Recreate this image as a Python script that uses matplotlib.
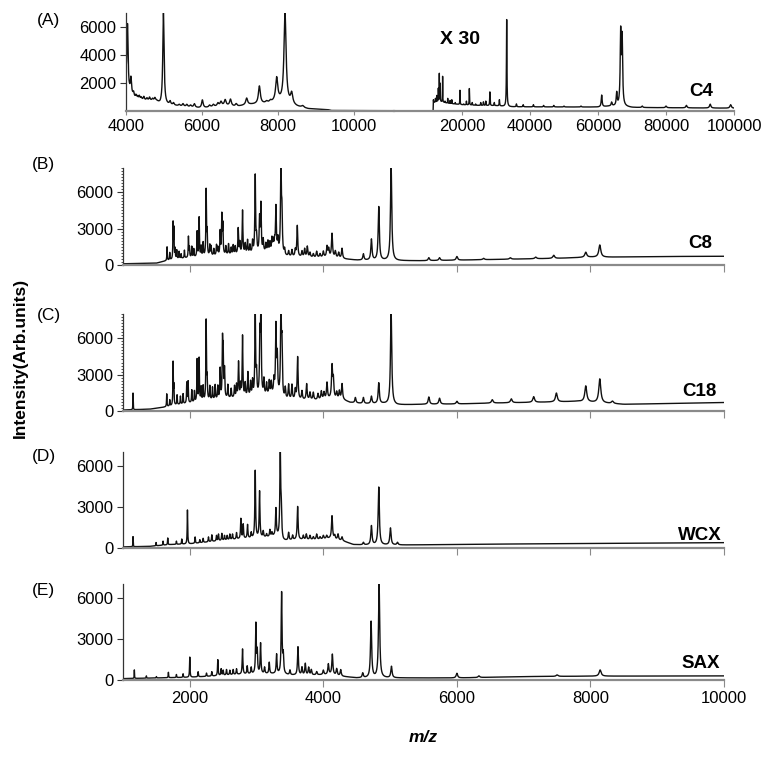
import numpy as np
import matplotlib.pyplot as plt
from matplotlib.ticker import MultipleLocator

plt.rcParams['font.family'] = ['Liberation Sans', 'DejaVu Sans']

W, H = 771, 757

# ---------- data ----------
# panel A, left part (4000-11000), baseline knots and peaks (m/z, apex)
a_base_mz = [4000, 4080, 4150, 4250, 4500, 4800, 4900, 5200, 5600, 6000, 6300, 6600,
             6900, 7200, 7500, 7800, 8000, 8500, 8800, 9300, 9400, 11100]
a_base_int = [2500, 1500, 1200, 850, 750, 700, 450, 400, 300, 200, 300, 400,
              300, 450, 500, 550, 700, 300, 150, 100, 30, 20]
a_pk_mz = [4040, 4130, 4200, 4260, 4300, 4350, 4400, 4470, 4550, 4620, 4700, 4760,
           4985, 5160, 5250, 5400, 5500, 5600, 5700, 5800, 6010, 6200, 6300, 6420,
           6500, 6610, 6750, 6900, 7175, 7510, 7700, 7800, 7965, 8185, 8360, 8650]
a_pk_int = [6200, 2330, 1300, 1100, 1000, 1050, 950, 1000, 900, 950, 850, 900,
            7000, 650, 550, 450, 500, 450, 400, 500, 780, 400, 450, 550,
            650, 780, 820, 500, 900, 1760, 650, 700, 2300, 7000, 1180, 350]

# panel A, right part (x 30), 0-100000
ar_base_mz = [6600, 11500, 11550, 13000, 16000, 20000, 25000, 30000, 34000, 60000,
              64000, 68000, 70000, 100000]
ar_base_int = [0, 0, 600, 700, 550, 450, 400, 380, 300, 280, 350, 300, 250, 200]
ar_pk_mz = [11600, 12200, 12600, 13040, 13330, 13600, 14300, 15000, 15800, 16500,
            17000, 18000, 19400, 20500, 21300, 22160, 23000, 24000, 25500, 26300,
            27000, 28200, 29500, 31000, 33140, 36000, 38000, 41000, 44000, 47000,
            50000, 55000, 61080, 64000, 65500, 66670, 67100, 73000, 80000, 86000,
            93000, 99000]
ar_pk_int = [800, 900, 1100, 1600, 2660, 1950, 2470, 700, 900, 750,
             800, 600, 1480, 500, 700, 1600, 600, 500, 600, 650,
             700, 1360, 600, 800, 6530, 500, 450, 450, 400, 400,
             350, 350, 1130, 600, 1250, 5430, 5000, 350, 350, 400,
             490, 450]

# panel B (C8)
b_base_mz = [1000, 1500, 1650, 1800, 2000, 2200, 2500, 2800, 3100, 3300, 3400, 3600,
             3900, 4100, 4300, 4500, 5100, 5500, 6500, 7500, 8000, 8300, 9000, 10000]
b_base_int = [100, 150, 350, 500, 600, 700, 800, 900, 1000, 1100, 700, 650,
              600, 650, 500, 400, 350, 350, 450, 550, 650, 650, 700, 720]
b_pk_mz = [1660, 1700, 1750, 1762, 1780, 1805, 1840, 1870, 1920, 1980, 1995, 2030,
           2060, 2110, 2140, 2170, 2200, 2245, 2260, 2300, 2320, 2360, 2400, 2420,
           2455, 2480, 2495, 2540, 2580, 2620, 2650, 2680, 2725, 2750, 2790, 2830,
           2865, 2900, 2940, 2980, 3000, 3045, 3065, 3100, 3140, 3170, 3200, 3230,
           3250, 3270, 3290, 3320, 3365, 3380, 3420, 3480, 3530, 3580, 3610, 3680,
           3720, 3760, 3800, 3850, 3900, 3950, 4000, 4055, 4080, 4130, 4180, 4230,
           4280, 4600, 4720, 4830, 5015, 5580, 5740, 6000, 6400, 6800, 7180, 7450,
           7930, 8140]
b_pk_int = [1480, 1000, 3380, 2900, 1300, 1200, 1100, 900, 1200, 2300, 1400, 1500,
            1300, 2720, 3880, 1500, 1800, 6100, 2600, 1600, 1500, 1300, 1600, 1400,
            2700, 3960, 3200, 1500, 1700, 1400, 1600, 1500, 2970, 1800, 4450, 1700,
            2000, 1600, 1900, 7290, 2100, 3700, 4870, 2000, 1700, 1900, 1800, 2100,
            1900, 1800, 4700, 2000, 8300, 3900, 1200, 1100, 1200, 1200, 3200, 1100,
            1300, 1500, 1000, 900, 1100, 900, 1100, 1500, 1300, 2560, 1100, 1000,
            1350, 900, 2100, 4780, 8300, 600, 600, 700, 550, 600, 650, 800,
            1050, 1650]

# panel C (C18)
c_base_mz = [1000, 1400, 1600, 1800, 2000, 2200, 2500, 2800, 3100, 3300, 3400, 3600,
             3900, 4100, 4300, 4400, 4600, 4900, 5100, 5500, 6000, 6500, 7000, 7500,
             7800, 8500, 9000, 10000]
c_base_int = [80, 150, 300, 500, 650, 800, 1000, 1100, 1200, 1400, 900, 900,
              900, 1000, 900, 700, 600, 600, 500, 550, 580, 650, 700, 750,
              800, 550, 600, 700]
c_pk_mz = [1150, 1655, 1700, 1750, 1762, 1810, 1860, 1900, 1955, 1975, 2030, 2070,
           2110, 2140, 2170, 2200, 2245, 2260, 2300, 2340, 2380, 2420, 2455, 2490,
           2500, 2520, 2570, 2620, 2670, 2700, 2730, 2760, 2790, 2830, 2870, 2910,
           2940, 2980, 3000, 3050, 3065, 3110, 3150, 3190, 3220, 3260, 3290, 3310,
           3365, 3380, 3430, 3480, 3530, 3580, 3615, 3680, 3750, 3800, 3850, 3920,
           3970, 4010, 4055, 4130, 4150, 4200, 4240, 4280, 4480, 4600, 4720, 4830,
           5015, 5580, 5740, 6000, 6530, 6815, 7150, 7490, 7930, 8140, 8330]
c_pk_int = [1480, 1400, 900, 3960, 2000, 1300, 1200, 1400, 2300, 2400, 1700, 1600,
            4200, 4300, 1900, 2000, 7370, 2500, 2000, 1900, 2100, 2000, 3400, 5440,
            4500, 3300, 2100, 1800, 2000, 2100, 3960, 2100, 6130, 2200, 3100, 2300,
            2400, 8300, 2900, 5870, 8300, 2500, 2200, 2400, 2300, 2500, 6840, 4300,
            8300, 5000, 1800, 2100, 2100, 1700, 4400, 1600, 2200, 1500, 1500, 1400,
            1600, 1500, 2300, 3600, 2500, 1500, 1600, 2200, 1100, 1100, 1200, 2300,
            8300, 1150, 1050, 800, 930, 1000, 1180, 1480, 2060, 2640, 800]

# panel D (WCX)
d_base_mz = [1000, 1400, 1700, 2000, 2300, 2600, 2900, 3200, 3300, 3400, 3600, 3900,
             4100, 4300, 4450, 4600, 5200, 7000, 10000]
d_base_int = [80, 120, 250, 300, 450, 600, 700, 800, 900, 500, 600, 600,
              700, 500, 250, 220, 220, 300, 390]
d_pk_mz = [1150, 1495, 1600, 1670, 1800, 1880, 1965, 2080, 2150, 2200, 2280, 2330,
           2400, 2430, 2480, 2520, 2560, 2600, 2640, 2700, 2765, 2800, 2865, 2920,
           2980, 3045, 3100, 3150, 3200, 3230, 3290, 3355, 3370, 3480, 3540, 3615,
           3700, 3745, 3800, 3850, 3900, 3950, 4000, 4050, 4130, 4170, 4220, 4280,
           4600, 4720, 4830, 5005, 5110]
d_pk_int = [830, 400, 500, 730, 500, 650, 2770, 800, 600, 700, 800, 950,
            900, 1000, 1050, 900, 900, 1000, 1000, 1100, 2120, 1700, 1680, 1100,
            5620, 4110, 1200, 1000, 1300, 1100, 2840, 7020, 2500, 1100, 900, 3010,
            900, 1000, 900, 800, 1000, 800, 900, 900, 2330, 900, 1000, 800,
            400, 1600, 4430, 1450, 400]

# panel E (SAX)
e_base_mz = [1000, 1500, 2000, 2400, 2700, 3000, 3300, 3500, 3800, 4100, 4300, 4500,
             5200, 6000, 7000, 8000, 10000]
e_base_int = [100, 150, 200, 300, 400, 450, 450, 350, 350, 400, 250, 150,
              150, 150, 250, 280, 300]
e_pk_mz = [1170, 1350, 1500, 1680, 1800, 1900, 2000, 2125, 2250, 2330, 2420, 2470,
           2500, 2550, 2600, 2650, 2700, 2790, 2860, 2920, 2990, 3010, 3060, 3120,
           3190, 3300, 3375, 3400, 3500, 3620, 3680, 3730, 3780, 3820, 3900, 4000,
           4075, 4135, 4200, 4260, 4590, 4715, 4835, 5020, 6000, 6330, 7500, 8145]
e_pk_int = [735, 300, 250, 560, 400, 450, 1670, 600, 500, 600, 1470, 800,
            700, 750, 700, 750, 800, 2250, 1000, 900, 4040, 2000, 2650, 900,
            1270, 1840, 6320, 1700, 700, 2400, 900, 1180, 900, 735, 600, 700,
            1150, 1860, 800, 735, 490, 4240, 7000, 980, 490, 300, 370, 735]

panel_tags = ['(A)', '(B)', '(C)', '(D)', '(E)']
column_names = ['C4', 'C8', 'C18', 'WCX', 'SAX']


def spectrum(grid, base_mz, base_int, pk_mz, pk_int, rel_w):
    # baseline through the read knots, plus a peak for every read apex
    y = np.interp(grid, base_mz, base_int).astype(float)
    pk_mz = np.asarray(pk_mz, float)
    h = np.clip(np.asarray(pk_int, float) - np.interp(pk_mz, base_mz, base_int), 0, None)
    for m, hh in zip(pk_mz, h):
        g = rel_w * m
        y += hh / (1 + ((grid - m) / g) ** 2)
    return y


def px_axes(x0, x1, y0, y1):
    return fig.add_axes([x0 / W, 1 - y1 / H, (x1 - x0) / W, (y1 - y0) / H])


def style(ax, left=True):
    for s in ('top', 'right'):
        ax.spines[s].set_visible(False)
    ax.spines['bottom'].set_color('#8a8a8a')
    ax.spines['bottom'].set_linewidth(1.6)
    if left:
        ax.spines['left'].set_color('#333333')
        ax.spines['left'].set_linewidth(0.9)
    else:
        ax.spines['left'].set_visible(False)
        ax.tick_params(axis='y', left=False, labelleft=False)
    ax.tick_params(axis='both', labelsize=12, direction='out', pad=3)
    ax.tick_params(axis='x', color='#8a8a8a', length=4)
    ax.tick_params(axis='y', color='#333333', length=4)
    ax.patch.set_alpha(0)


fig = plt.figure(figsize=(W / 100, H / 100), dpi=100)
line_kw = dict(color='#111111', lw=1.0)

# ---------- panel A ----------
axl = px_axes(126, 394, 13, 111)
g = np.arange(4000, 11053, 2.0)
axl.plot(g, spectrum(g, a_base_mz, a_base_int, a_pk_mz, a_pk_int, 0.004), **line_kw)
axl.set_xlim(4000, 11053)
axl.set_ylim(0, 7000)
axl.set_xticks([4000, 6000, 8000, 10000])
axl.set_yticks([2000, 4000, 6000])
style(axl)
axl.tick_params(axis='x', length=3)

axr = px_axes(394, 734, 13, 111)
g = np.arange(6600, 100000, 10.0)
axr.plot(g, spectrum(g, ar_base_mz, ar_base_int, ar_pk_mz, ar_pk_int, 0.0025), **line_kw)
axr.set_xlim(0, 100000)
axr.set_ylim(0, 7000)
axr.set_xticks([20000, 40000, 60000, 80000, 100000])
style(axr, left=False)
axr.tick_params(axis='x', length=3)
fig.text(460 / W, 1 - 39 / H, 'X 30', fontsize=14, fontweight='bold', ha='center', va='center')

# ---------- panels B-E ----------
rows = [
    (168, 265, 8000, b_base_mz, b_base_int, b_pk_mz, b_pk_int),
    (314, 411, 8000, c_base_mz, c_base_int, c_pk_mz, c_pk_int),
    (452, 548, 7000, d_base_mz, d_base_int, d_pk_mz, d_pk_int),
    (584, 680, 7000, e_base_mz, e_base_int, e_pk_mz, e_pk_int),
]
g = np.arange(1000, 10001, 1.0)
for i, (y0, y1, top, bm, bi, pm, pi) in enumerate(rows):
    ax = px_axes(123, 724, y0, y1)
    ax.plot(g, spectrum(g, bm, bi, pm, pi, 0.0022), **line_kw)
    ax.set_xlim(1000, 10000)
    ax.set_ylim(0, top)
    ax.set_xticks([2000, 4000, 6000, 8000, 10000])
    ax.set_yticks([0, 3000, 6000])
    style(ax)
    ax.tick_params(axis='x', length=5)
    if top == 8000:
        ax.yaxis.set_minor_locator(MultipleLocator(250))
        ax.tick_params(axis='y', which='minor', length=1.5, width=0.6, color='#333333')
    if i < 3:
        ax.tick_params(axis='x', labelbottom=False)

# panel tags and column names
tag_pos = [(37, 20), (32, 165), (37, 316), (32, 456), (32, 590)]
for t, (x, y) in zip(panel_tags, tag_pos):
    fig.text(x / W, 1 - y / H, t, fontsize=12.5, ha='left', va='center')

name_pos = [(713, 92), (712, 243), (717, 391), (722, 535), (720, 664)]
for n, (x, y) in zip(column_names, name_pos):
    fig.text(x / W, 1 - y / H, n, fontsize=13.5, fontweight='bold', ha='right', va='center')

fig.text(20 / W, 1 - 358 / H, 'Intensity(Arb.units)', rotation=90, fontsize=12.5,
         fontweight='bold', ha='center', va='center')
fig.text(423 / W, 1 - 737 / H, 'm/z', fontsize=12.5, fontweight='bold', style='italic',
         ha='center', va='center')

fig.savefig('out.png', dpi=100)
